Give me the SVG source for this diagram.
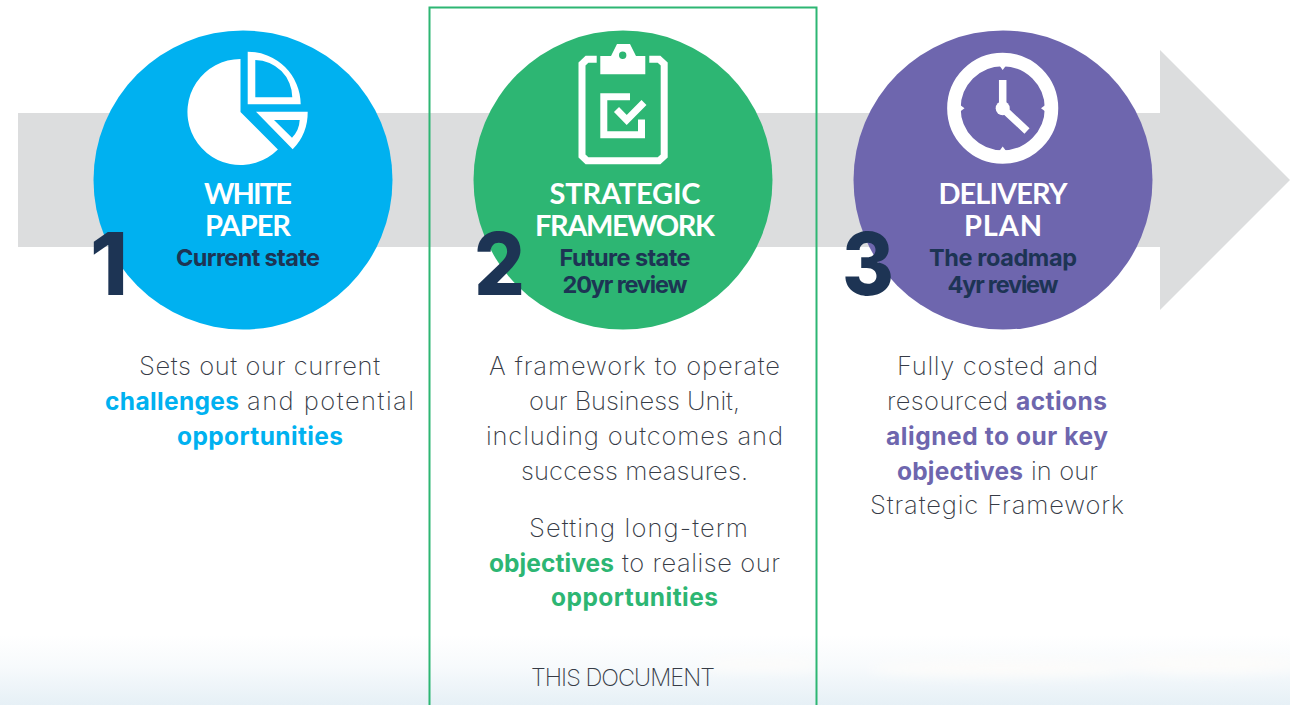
<svg xmlns="http://www.w3.org/2000/svg" width="1290" height="705" viewBox="0 0 1290 705">
<style>
text{font-family:"Inter","Liberation Sans",sans-serif;font-variant-ligatures:none}
.b{font-size:25.500px;font-weight:250;fill:#363b46}
.hb{font-size:24.500px;font-weight:700}
.blue{fill:#00b1f0}.green{fill:#2db673}.purple{fill:#6e66ae}
.t{font-family:"Lato",sans-serif;font-size:29px;font-weight:700;fill:#fff;text-anchor:middle}
.s{font-size:23.500px;font-weight:700;fill:#1d3454;text-anchor:middle}
.n{font-size:87px;font-weight:800;fill:#1d3454}
.w{fill:#fff}
.ws{fill:none;stroke:#fff}
</style>
<defs>
<linearGradient id="sky" x1="0" y1="0" x2="0" y2="1">
<stop offset="0" stop-color="#fff"/><stop offset="0.45" stop-color="#f7fafc"/><stop offset="1" stop-color="#e6f0f6"/>
</linearGradient>
<filter id="blur" x="-30%" y="-100%" width="160%" height="300%"><feGaussianBlur stdDeviation="6"/></filter>
</defs>
<rect id="backdrop" x="0" y="635" width="1290" height="70" fill="url(#sky)"/>
<g id="clouds" fill="#fdfcfa" filter="url(#blur)">
<ellipse cx="1000" cy="668" rx="130" ry="8"/><ellipse cx="760" cy="664" rx="60" ry="6"/><ellipse cx="1210" cy="664" rx="90" ry="9"/>
</g>
<g id="connectors">
<path id="arrow" d="M18 113H1160V50L1290 180L1160 310V247H18Z" fill="#dcddde"/>
</g>
<rect id="highlight" x="429.500" y="7.500" width="387" height="710" fill="none" stroke="#2db673" stroke-width="2"/>
<g id="node-1">
<circle cx="243" cy="180" r="149.500" class="blue"/>
<path class="w" d="M240.500 59A53 53 0 1 0 277.900 149.500L240.500 112Z"/>
<path class="w" fill-rule="evenodd" d="M247.700 51.700A53 53 0 0 1 300.700 104.300H247.700ZM255.300 60V97.300H292.300A37.500 37.500 0 0 0 255.300 60Z"/>
<path class="w" fill-rule="evenodd" d="M256 111.700H307.700A53 53 0 0 1 292.700 149.300ZM274 120L292 137.700A27 27 0 0 0 299.700 120Z"/>
<text class="t" x="248" y="204" textLength="88">WHITE</text>
<text class="t" x="248" y="236" textLength="86">PAPER</text>
<text class="s" x="248" y="266" textLength="144">Current state</text>
<text class="n" x="90" y="295" textLength="38" lengthAdjust="spacingAndGlyphs">1</text>
</g>
<g id="node-2">
<circle cx="623" cy="180" r="149.500" class="green"/>
<path class="ws" stroke-width="7" d="M596.700 59.200H587L582 64V156L587 160.800H659L664.200 156V64L659 59.200H649.300"/>
<path class="w" fill-rule="evenodd" d="M600.300 74.300V56H611L617 44H630L636 56H645.300V74.300ZM626.400 55.300A3.700 3.700 0 1 0 619 55.300A3.700 3.700 0 0 0 626.400 55.300Z"/>
<path class="ws" stroke-width="7" d="M630 96.800H603.800V134.800H641.500V119.500"/>
<path class="ws" stroke-width="7" d="M616.500 109.500L626.700 120L644 102.500"/>
<text class="t" x="625" y="204" textLength="151">STRATEGIC</text>
<text class="t" x="625" y="236" textLength="180">FRAMEWORK</text>
<text class="s" x="625" y="266" textLength="131">Future state</text>
<text class="s" x="625" y="293" textLength="125">20yr review</text>
<text class="n" x="474" y="295" textLength="51" lengthAdjust="spacingAndGlyphs">2</text>
</g>
<g id="node-3">
<circle cx="1003" cy="180" r="149.500" class="purple"/>
<circle class="ws" cx="1002.700" cy="108.300" r="48.800" stroke-width="13.500"/>
<path class="w" d="M999 65H1006.500L1002.700 70ZM999 151.500H1006.500L1002.700 146.500ZM959.500 104.500V112L964.500 108.300ZM1046 104.500V112L1041 108.300Z"/>
<circle class="w" cx="1002.700" cy="108.300" r="7"/>
<path class="ws" stroke-width="7.500" d="M1002.700 80V108.300L1027 131"/>
<text class="t" x="1003" y="204" textLength="129">DELIVERY</text>
<text class="t" x="1003" y="236" textLength="78">PLAN</text>
<text class="s" x="1003" y="266" textLength="148">The roadmap</text>
<text class="s" x="1003" y="293" textLength="111">4yr review</text>
<text class="n" x="842" y="295" textLength="52" lengthAdjust="spacingAndGlyphs">3</text>
</g>
<g id="desc-1">
<text class="b" x="139" y="375" textLength="241">Sets out our current</text>
<text class="hb blue" x="105" y="410" textLength="134">challenges</text>
<text class="b" x="247" y="410" textLength="167">and potential</text>
<text class="hb blue" x="177" y="445" textLength="166">opportunities</text>
</g>
<g id="desc-2">
<text class="b" x="489" y="375" textLength="291">A framework to operate</text>
<text class="b" x="529" y="410" textLength="211">our Business Unit,</text>
<text class="b" x="486" y="445" textLength="297">including outcomes and</text>
<text class="b" x="521" y="480" textLength="227">success measures.</text>
<text class="b" x="529" y="537" textLength="219">Setting long-term</text>
<text class="hb green" x="489" y="572" textLength="125">objectives</text>
<text class="b" x="622" y="572" textLength="158">to realise our</text>
<text class="hb green" x="551" y="606" textLength="167">opportunities</text>
<text class="b" x="531" y="686" textLength="184" style="font-size:23.500px">THIS DOCUMENT</text>
</g>
<g id="desc-3">
<text class="b" x="897" y="375" textLength="201">Fully costed and</text>
<text class="b" x="887" y="410" textLength="121">resourced</text>
<text class="hb purple" x="1016" y="410" textLength="91">actions</text>
<text class="hb purple" x="886" y="445" textLength="222">aligned to our key</text>
<text class="hb purple" x="897" y="480" textLength="126">objectives</text>
<text class="b" x="1031" y="480" textLength="67">in our</text>
<text class="b" x="870" y="514" textLength="254">Strategic Framework</text>
</g>
</svg>
